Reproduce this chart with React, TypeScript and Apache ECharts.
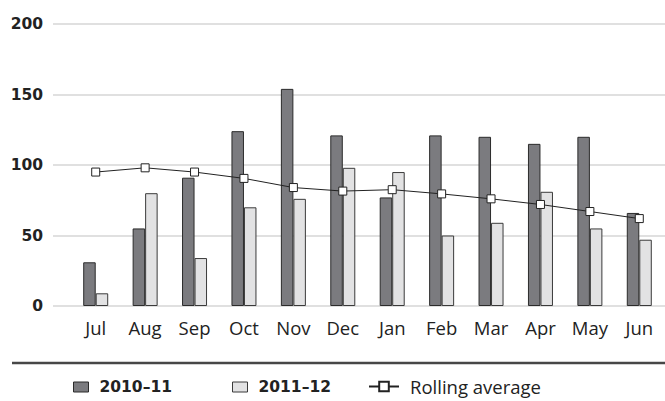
import React, { useEffect, useRef } from "react";
import * as echarts from "echarts";

const months = ["Jul", "Aug", "Sep", "Oct", "Nov", "Dec", "Jan", "Feb", "Mar", "Apr", "May", "Jun"];
const series2010 = [31, 55, 91, 124, 154, 121, 77, 121, 120, 115, 120, 66];
const series2011 = [9, 80, 34, 70, 76, 98, 95, 50, 59, 81, 55, 47];
const rollingAvg = [95, 98, 95, 90.5, 84, 81.5, 82.5, 79.5, 76, 72, 67, 62];
const yTicks = { min: 0, max: 200, interval: 50 };

const NAME_A = "2010–11";
const NAME_B = "2011–12";
const NAME_C = "Rolling average";

export default function App() {
  const ref = useRef<HTMLDivElement>(null);
  useEffect(() => {
    if (!ref.current) return;
    const chart = echarts.init(ref.current, undefined, { renderer: "svg" });
    const gridTop = 24;
    const gridBottom = 95;
    const boldLegendText = {
      fontFamily: "DejaVu Sans",
      fontWeight: "bold",
      fontSize: 15.5,
      color: "#222",
      padding: [0, 0, 0, 6],
    };
    chart.setOption({
      animation: false,
      backgroundColor: "#ffffff",
      grid: [
        { left: 53, right: 0, top: gridTop, bottom: gridBottom },
        { left: 71, right: 1, top: gridTop, bottom: gridBottom },
      ],
      xAxis: [
        { type: "category", gridIndex: 0, data: months, show: false },
        {
          type: "category",
          gridIndex: 1,
          data: months,
          axisLine: { show: false },
          axisTick: { show: false },
          axisLabel: {
            margin: 12,
            fontFamily: "Open Sans",
            fontWeight: 500,
            fontSize: 18.5,
            color: "#222",
          },
        },
      ],
      yAxis: [
        {
          type: "value",
          gridIndex: 0,
          min: yTicks.min,
          max: yTicks.max,
          interval: yTicks.interval,
          axisLine: { show: false },
          axisTick: { show: false },
          axisLabel: {
            margin: 10,
            fontFamily: "DejaVu Sans",
            fontWeight: "bold",
            fontSize: 15.5,
            color: "#222",
            padding: [0, 0, 8, 0],
          },
          splitLine: { lineStyle: { color: "#d6d6d6", width: 1.5 } },
        },
        {
          type: "value",
          gridIndex: 1,
          min: yTicks.min,
          max: yTicks.max,
          show: false,
          splitLine: { show: false },
        },
      ],
      legend: [
        {
          data: [NAME_A],
          left: 73,
          top: 379,
          padding: 0,
          icon: "rect",
          itemWidth: 15,
          itemHeight: 10,
          itemStyle: { borderColor: "#2b2b2b", borderWidth: 1 },
          textStyle: boldLegendText,
        },
        {
          data: [NAME_B],
          left: 232,
          top: 379,
          padding: 0,
          icon: "rect",
          itemWidth: 15,
          itemHeight: 10,
          itemStyle: { borderColor: "#3a3a3a", borderWidth: 1 },
          textStyle: boldLegendText,
        },
        {
          data: [NAME_C],
          left: 368,
          top: 377,
          padding: 0,
          itemWidth: 30,
          itemHeight: 12,
          textStyle: {
            fontFamily: "Open Sans",
            fontWeight: 500,
            fontSize: 18.5,
            color: "#222",
            padding: [0, 0, 0, 6],
          },
        },
      ],
      graphic: [
        {
          type: "line",
          shape: { x1: 12, y1: 363, x2: 665, y2: 363 },
          style: { stroke: "#474747", lineWidth: 2.5 },
        },
      ],
      series: [
        {
          name: NAME_A,
          type: "bar",
          xAxisIndex: 1,
          yAxisIndex: 1,
          data: series2010,
          barWidth: 12.5,
          barGap: "0%",
          itemStyle: { color: "#7b7b7f", borderColor: "#2b2b2b", borderWidth: 1 },
        },
        {
          name: NAME_B,
          type: "bar",
          xAxisIndex: 1,
          yAxisIndex: 1,
          data: series2011,
          barWidth: 12.5,
          barGap: "0%",
          itemStyle: { color: "#e2e2e3", borderColor: "#3a3a3a", borderWidth: 1 },
        },
        {
          name: NAME_C,
          type: "line",
          xAxisIndex: 1,
          yAxisIndex: 1,
          data: rollingAvg,
          symbol: "rect",
          symbolSize: 8,
          lineStyle: { color: "#222", width: 1 },
          itemStyle: { color: "#ffffff", borderColor: "#222", borderWidth: 1 },
          z: 5,
        },
      ],
    });
    return () => chart.dispose();
  }, []);
  return (
    <div
      ref={ref}
      style={{ position: "fixed", left: 0, top: 0, width: 665, height: 401 }}
    />
  );
}
